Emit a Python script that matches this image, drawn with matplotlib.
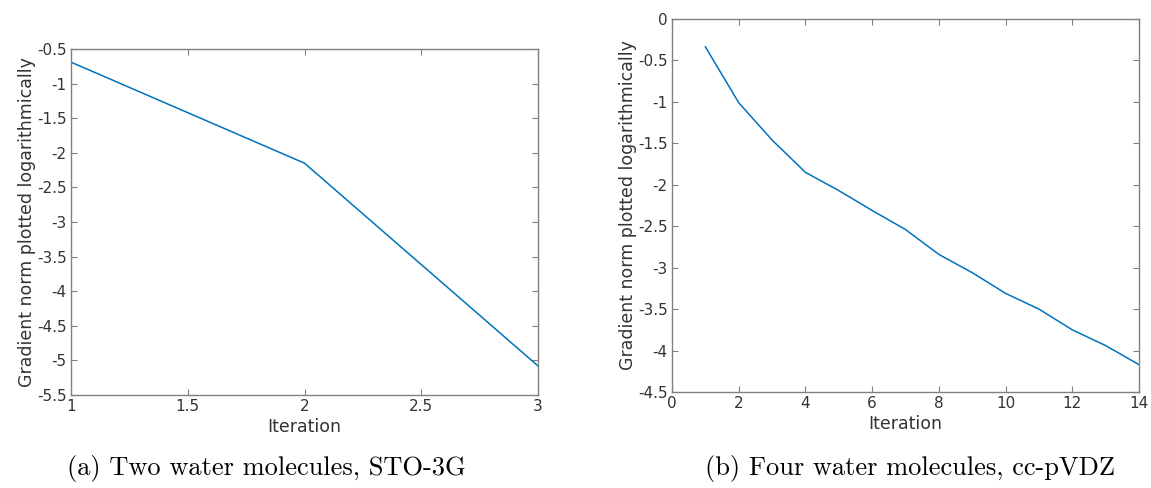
import matplotlib
matplotlib.use("Agg")
import matplotlib.pyplot as plt

# Panel (a): two water molecules, STO-3G
iter_a = [1, 2, 3]
grad_a = [-0.69, -2.15, -5.08]

# Panel (b): four water molecules, cc-pVDZ
iter_b = [1, 2, 3, 4, 5, 6, 7, 8, 9, 10, 11, 12, 13, 14]
grad_b = [-0.335, -1.01, -1.46, -1.85, -2.07, -2.31, -2.54, -2.84,
          -3.06, -3.31, -3.50, -3.75, -3.94, -4.17]

captions = ["(a) Two water molecules, STO-3G", "(b) Four water molecules, cc-pVDZ"]
ylabel = "Gradient norm plotted logarithmically"

LINE = "#0072BD"
AXIS = "#808080"
TEXT = "#333333"

W, H = 1151, 488
fig = plt.figure(figsize=(W / 100, H / 100), dpi=100)


def box(x0, y0, x1, y1):
    # pixel box -> figure fraction
    return [x0 / W, (H - y1) / H, (x1 - x0) / W, (y1 - y0) / H]


def style(ax):
    for s in ax.spines.values():
        s.set_color(AXIS)
        s.set_linewidth(1.0)
    ax.tick_params(direction="in", top=True, right=True, length=4,
                   color=AXIS, labelcolor=TEXT, labelsize=11, pad=3)
    ax.set_xlabel("Iteration", fontsize=12.5, color=TEXT, labelpad=3)
    ax.set_ylabel(ylabel, fontsize=12.5, color=TEXT, labelpad=1)


def fmt(v):
    return f"{v:g}"


ax1 = fig.add_axes(box(71, 49, 538, 395))
ax1.plot(iter_a, grad_a, color=LINE, lw=1.1)
ax1.set_xlim(1, 3)
ax1.set_ylim(-5.5, -0.5)
xt = [1, 1.5, 2, 2.5, 3]
yt = [-5.5, -5, -4.5, -4, -3.5, -3, -2.5, -2, -1.5, -1, -0.5]
ax1.set_xticks(xt, [fmt(v) for v in xt])
ax1.set_yticks(yt, [fmt(v) for v in yt])
style(ax1)

ax2 = fig.add_axes(box(672, 19, 1139, 392))
ax2.plot(iter_b, grad_b, color=LINE, lw=1.1)
ax2.set_xlim(0, 14)
ax2.set_ylim(-4.5, 0)
xt = list(range(0, 15, 2))
yt = [-4.5, -4, -3.5, -3, -2.5, -2, -1.5, -1, -0.5, 0]
ax2.set_xticks(xt, [fmt(v) for v in xt])
ax2.set_yticks(yt, [fmt(v) for v in yt])
style(ax2)

fig.text(266 / W, 1 - 468 / H, captions[0], family="cmr10", fontsize=19,
         ha="center", va="center", color="black")
fig.text(910 / W, 1 - 468 / H, captions[1], family="cmr10", fontsize=19,
         ha="center", va="center", color="black")

fig.savefig("out.png", dpi=100)
